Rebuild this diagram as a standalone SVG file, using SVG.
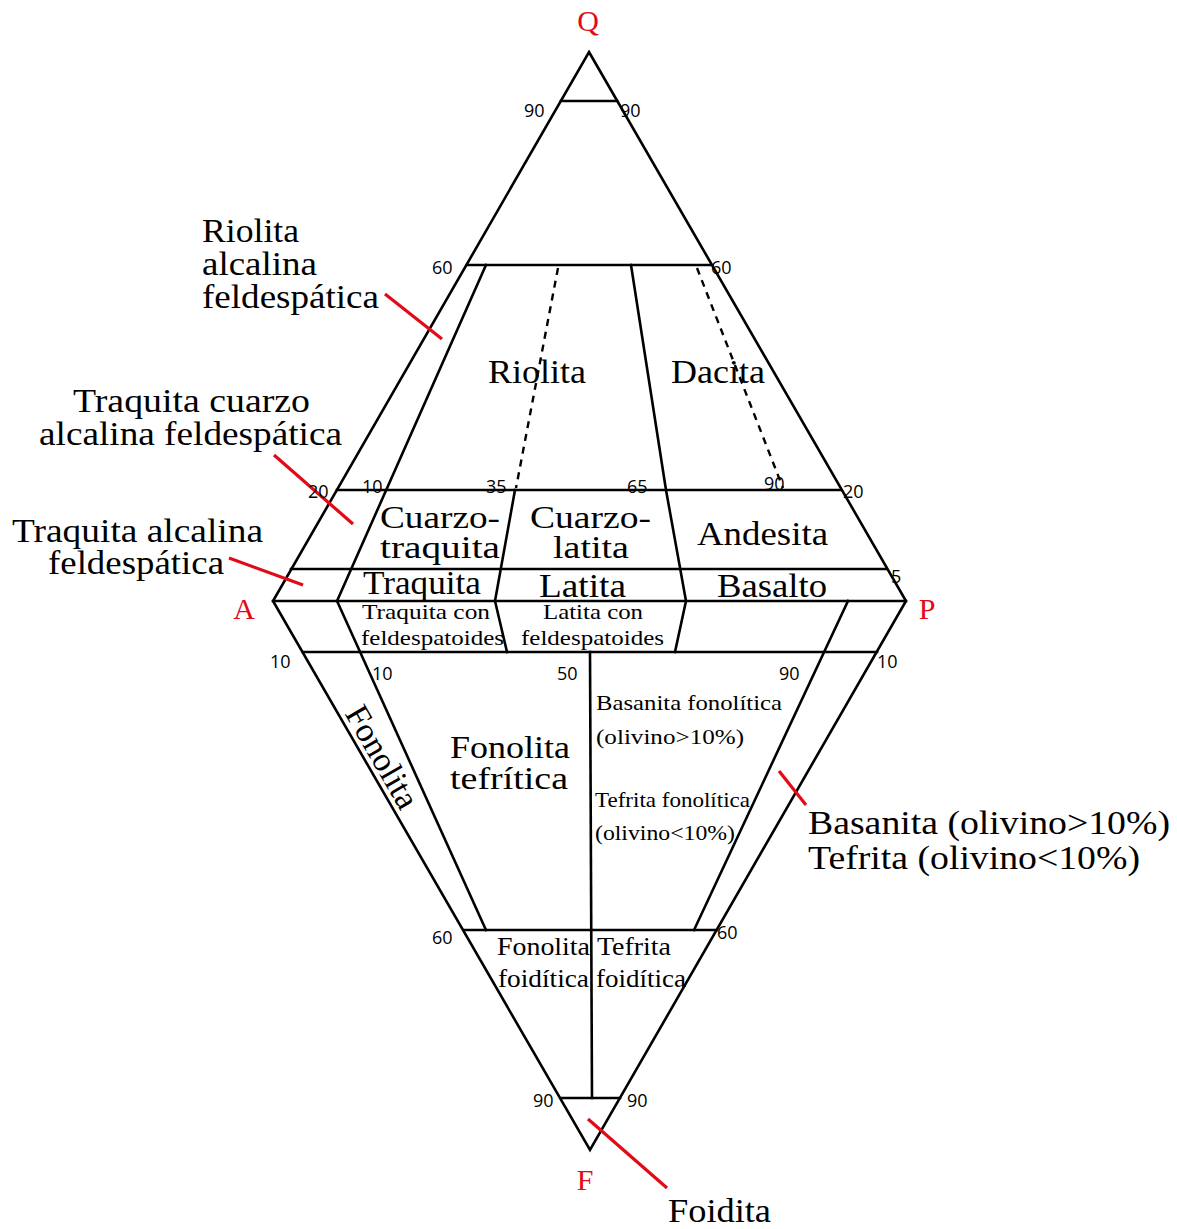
<svg xmlns="http://www.w3.org/2000/svg" width="1177" height="1229" viewBox="0 0 1177 1229">
  <style>
    .ln { stroke: #000; stroke-width: 2.6; fill: none; stroke-linejoin: miter; stroke-linecap: square; }
    .dash { stroke: #000; stroke-width: 2.4; fill: none; stroke-dasharray: 7 6; }
    .red { stroke: #e30a17; stroke-width: 3.2; fill: none; }
    .big { font-family: "Liberation Serif", "Times New Roman", serif; font-size: 34px; fill: #000; }
    .tight { font-family: "Liberation Serif", "Times New Roman", serif; font-size: 31px; fill: #000; }
    .mid { font-family: "Liberation Serif", "Times New Roman", serif; font-size: 33px; fill: #000; }
    .sm { font-family: "Liberation Serif", "Times New Roman", serif; font-size: 22px; fill: #000; }
    .fd { font-family: "Liberation Serif", "Times New Roman", serif; font-size: 25px; fill: #000; }
    .num { font-family: "Open Sans", "DejaVu Sans", sans-serif; font-size: 18px; fill: #000; }
    .vtx { font-family: "Liberation Serif", "Times New Roman", serif; font-size: 30px; fill: #e30a17; text-anchor: middle; }
  </style>

  <!-- QAPF outline and field boundaries -->
  <g id="connectors">
    <!-- double triangle -->
    <polygon class="ln" points="589,52 906,601 590,1150 273,601"/>
    <!-- horizontal boundaries -->
    <line class="ln" x1="561" y1="101" x2="617" y2="101"/>
    <line class="ln" x1="467" y1="265" x2="711" y2="265"/>
    <line class="ln" x1="337" y1="490" x2="841" y2="490"/>
    <line class="ln" x1="291" y1="569" x2="886" y2="569"/>
    <line class="ln" x1="273" y1="601" x2="906" y2="601"/>
    <line class="ln" x1="303" y1="652" x2="877" y2="652"/>
    <line class="ln" x1="464" y1="930" x2="717" y2="930"/>
    <line class="ln" x1="561" y1="1098" x2="620" y2="1098"/>
    <!-- upper triangle radial boundaries -->
    <line class="ln" x1="486" y1="265" x2="337" y2="601"/>
    <line class="dash" x1="558" y1="268" x2="516" y2="488"/>
    <polyline class="ln" points="515,490 495,601 507,652"/>
    <polyline class="ln" points="631,265 666,490 686,601 675,652"/>
    <line class="dash" x1="697" y1="268" x2="783" y2="488"/>
    <!-- lower triangle boundaries -->
    <line class="ln" x1="337" y1="601" x2="486" y2="930"/>
    <line class="ln" x1="848" y1="601" x2="694" y2="930"/>
    <line class="ln" x1="590" y1="652" x2="592" y2="1098"/>
    <!-- leader lines -->
    <line class="red" x1="385" y1="294" x2="442" y2="339"/>
    <line class="red" x1="274" y1="455" x2="353" y2="524"/>
    <line class="red" x1="229" y1="558" x2="303" y2="585"/>
    <line class="red" x1="779" y1="771" x2="806" y2="805"/>
    <line class="red" x1="588" y1="1119" x2="667" y2="1188"/>
  </g>

  <!-- vertices -->
  <g id="vertex-Q"><text class="vtx" x="588" y="31">Q</text></g>
  <g id="vertex-A"><text class="vtx" x="244" y="619">A</text></g>
  <g id="vertex-P"><text class="vtx" x="927" y="619">P</text></g>
  <g id="vertex-F"><text class="vtx" x="585" y="1190">F</text></g>

  <!-- scale numbers -->
  <g id="scale">
    <text class="num" x="524" y="117">90</text>
    <text class="num" x="620" y="117">90</text>
    <text class="num" x="432" y="274">60</text>
    <text class="num" x="711" y="274">60</text>
    <text class="num" x="308" y="498">20</text>
    <text class="num" x="362" y="493">10</text>
    <text class="num" x="486" y="493">35</text>
    <text class="num" x="627" y="493">65</text>
    <text class="num" x="764" y="490">90</text>
    <text class="num" x="843" y="498">20</text>
    <text class="num" x="891" y="583">5</text>
    <text class="num" x="270" y="668">10</text>
    <text class="num" x="372" y="680">10</text>
    <text class="num" x="557" y="680">50</text>
    <text class="num" x="779" y="680">90</text>
    <text class="num" x="877" y="668">10</text>
    <text class="num" x="432" y="944">60</text>
    <text class="num" x="717" y="939">60</text>
    <text class="num" x="533" y="1107">90</text>
    <text class="num" x="627" y="1107">90</text>
  </g>

  <!-- outside labels -->
  <g id="riolita-alcalina-feldespatica">
    <text class="big" x="202" y="242" textLength="97" lengthAdjust="spacingAndGlyphs">Riolita</text>
    <text class="big" x="202" y="275" textLength="115" lengthAdjust="spacingAndGlyphs">alcalina</text>
    <text class="big" x="202" y="308" textLength="177" lengthAdjust="spacingAndGlyphs">feldespática</text>
  </g>
  <g id="traquita-cuarzo-alcalina-feldespatica">
    <text class="big" x="73" y="412" textLength="237" lengthAdjust="spacingAndGlyphs">Traquita cuarzo</text>
    <text class="big" x="39" y="445" textLength="303" lengthAdjust="spacingAndGlyphs">alcalina feldespática</text>
  </g>
  <g id="traquita-alcalina-feldespatica">
    <text class="big" x="12" y="542" textLength="251" lengthAdjust="spacingAndGlyphs">Traquita alcalina</text>
    <text class="big" x="48" y="574" textLength="176" lengthAdjust="spacingAndGlyphs">feldespática</text>
  </g>
  <g id="basanita-tefrita">
    <text class="big" x="808" y="834" textLength="362" lengthAdjust="spacingAndGlyphs">Basanita (olivino&gt;10%)</text>
    <text class="big" x="808" y="869" textLength="332" lengthAdjust="spacingAndGlyphs">Tefrita (olivino&lt;10%)</text>
  </g>
  <g id="foidita">
    <text class="big" x="668" y="1222" textLength="103" lengthAdjust="spacingAndGlyphs">Foidita</text>
  </g>

  <!-- fields inside the diagram -->
  <g id="riolita"><text class="big" x="488" y="383" textLength="98" lengthAdjust="spacingAndGlyphs">Riolita</text></g>
  <g id="dacita"><text class="big" x="671" y="383" textLength="94" lengthAdjust="spacingAndGlyphs">Dacita</text></g>
  <g id="cuarzotraquita">
    <text class="tight" x="380" y="528" textLength="120" lengthAdjust="spacingAndGlyphs">Cuarzo-</text>
    <text class="tight" x="380" y="558" textLength="120" lengthAdjust="spacingAndGlyphs">traquita</text>
  </g>
  <g id="cuarzolatita">
    <text class="tight" x="530" y="528" textLength="121" lengthAdjust="spacingAndGlyphs">Cuarzo-</text>
    <text class="tight" x="553" y="558" textLength="76" lengthAdjust="spacingAndGlyphs">latita</text>
  </g>
  <g id="andesita"><text class="mid" x="697" y="545" textLength="131" lengthAdjust="spacingAndGlyphs">Andesita</text></g>
  <g id="traquita"><text class="mid" x="363" y="594" textLength="118" lengthAdjust="spacingAndGlyphs">Traquita</text></g>
  <g id="latita"><text class="mid" x="539" y="597" textLength="87" lengthAdjust="spacingAndGlyphs">Latita</text></g>
  <g id="basalto"><text class="mid" x="717" y="597" textLength="110" lengthAdjust="spacingAndGlyphs">Basalto</text></g>
  <g id="traquita-feldespatoides">
    <text class="sm" x="362" y="619" textLength="128" lengthAdjust="spacingAndGlyphs">Traquita con</text>
    <text class="sm" x="361" y="645" textLength="143" lengthAdjust="spacingAndGlyphs">feldespatoides</text>
  </g>
  <g id="latita-feldespatoides">
    <text class="sm" x="543" y="619" textLength="100" lengthAdjust="spacingAndGlyphs">Latita con</text>
    <text class="sm" x="521" y="645" textLength="143" lengthAdjust="spacingAndGlyphs">feldespatoides</text>
  </g>
  <g id="fonolita">
    <text class="big" transform="translate(382,757) rotate(60)" text-anchor="middle" y="11">Fonolita</text>
  </g>
  <g id="fonolita-tefritica">
    <text class="tight" x="450" y="758" textLength="120" lengthAdjust="spacingAndGlyphs">Fonolita</text>
    <text class="tight" x="450" y="789" textLength="118" lengthAdjust="spacingAndGlyphs">tefrítica</text>
  </g>
  <g id="basanita-fonolitica">
    <text class="sm" x="596" y="710" textLength="186" lengthAdjust="spacingAndGlyphs">Basanita fonolítica</text>
    <text class="sm" x="596" y="744" textLength="148" lengthAdjust="spacingAndGlyphs">(olivino&gt;10%)</text>
  </g>
  <g id="tefrita-fonolitica">
    <text class="sm" x="595" y="807" textLength="155" lengthAdjust="spacingAndGlyphs">Tefrita fonolítica</text>
    <text class="sm" x="595" y="840" textLength="140" lengthAdjust="spacingAndGlyphs">(olivino&lt;10%)</text>
  </g>
  <g id="fonolita-foiditica">
    <text class="fd" x="497" y="955" textLength="93" lengthAdjust="spacingAndGlyphs">Fonolita</text>
    <text class="fd" x="498" y="987" textLength="91" lengthAdjust="spacingAndGlyphs">foidítica</text>
  </g>
  <g id="tefrita-foiditica">
    <text class="fd" x="597" y="955" textLength="74" lengthAdjust="spacingAndGlyphs">Tefrita</text>
    <text class="fd" x="596" y="987" textLength="90" lengthAdjust="spacingAndGlyphs">foidítica</text>
  </g>
</svg>
